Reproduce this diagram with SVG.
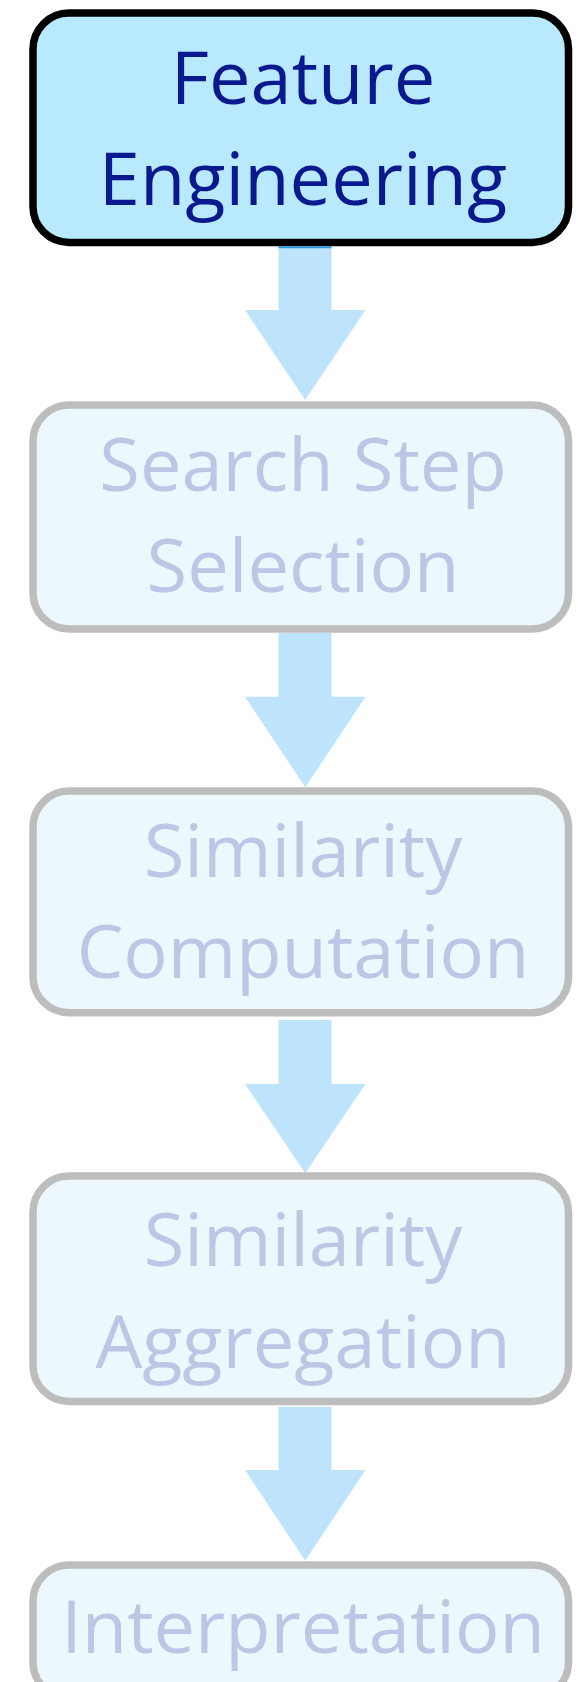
<svg xmlns="http://www.w3.org/2000/svg" width="578" height="1682" viewBox="0 0 578 1682">
<style>
.box{fill:#ecf7fe;stroke:#bdbdbd;stroke-width:7.5}
.active{fill:#b9e9fd;stroke:#000;stroke-width:7.5}
.t{font-family:"Open Sans","Noto Sans",sans-serif;font-size:74px;text-anchor:middle;fill:#bfc5e4}
.ta{fill:#0a1a8e}
.arrow{fill:#bee3fc}
</style>
<rect width="578" height="1682" fill="#fff"/>
<g id="connectors">
<polygon class="arrow" points="278.5,246 331.5,246 331.5,310 365.5,310 305.2,400 245,310 278.5,310"/>
<line x1="278.5" y1="247.5" x2="331.5" y2="247.5" stroke="#1a9af5" stroke-width="1.5"/>
<polygon class="arrow" points="278.5,633 331.5,633 331.5,696.7 365.5,696.7 305.2,787.3 245,696.7 278.5,696.7"/>
<polygon class="arrow" points="278.5,1020 331.5,1020 331.5,1084 365.5,1084 305.2,1173.3 245,1084 278.5,1084"/>
<polygon class="arrow" points="278.5,1406.8 331.5,1406.8 331.5,1470 365.5,1470 305.2,1560.6 245,1470 278.5,1470"/>
</g>
<g id="feature-engineering">
<rect class="active" x="33" y="13" width="535.5" height="229.4" rx="36"/>
<text class="t ta" x="303" y="104">Feature</text>
<text class="t ta" x="303" y="205">Engineering</text>
</g>
<g id="search-step-selection">
<rect class="box" x="33" y="405" width="535.5" height="224" rx="36"/>
<text class="t" x="303" y="490.7">Search Step</text>
<text class="t" x="303" y="591.7">Selection</text>
</g>
<g id="similarity-computation">
<rect class="box" x="33" y="791" width="535.5" height="221.7" rx="36"/>
<text class="t" x="303" y="877.3">Similarity</text>
<text class="t" x="303" y="978.3">Computation</text>
</g>
<g id="similarity-aggregation">
<rect class="box" x="33" y="1176" width="535.5" height="225.5" rx="36"/>
<text class="t" x="303" y="1266">Similarity</text>
<text class="t" x="303" y="1367.8">Aggregation</text>
</g>
<g id="interpretation">
<rect class="box" x="33" y="1565" width="535.5" height="133" rx="36"/>
<text class="t" x="303" y="1653.2">Interpretation</text>
</g>
</svg>
